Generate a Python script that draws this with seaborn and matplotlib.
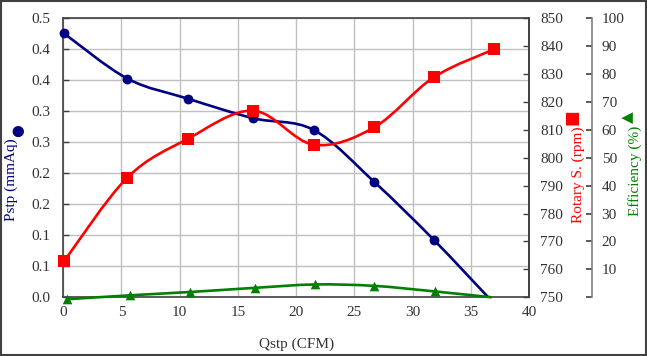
import numpy as np
import pandas as pd
import matplotlib
matplotlib.use("Agg")
import matplotlib.pyplot as plt
from matplotlib.path import Path
from matplotlib.patches import PathPatch, Rectangle
from matplotlib.ticker import FixedLocator, FixedFormatter
import seaborn as sns

# ---------------- data ----------------
q_pstp = [0.06, 5.5, 10.7, 16.3, 21.5, 26.7, 31.8, 36.5]
pstp = [0.473, 0.392, 0.356, 0.321, 0.300, 0.207, 0.1035, 0.0]

q_rpm = [0.06, 5.5, 10.7, 16.3, 21.5, 26.7, 31.8, 37.0]
rpm = [762.9, 792.9, 806.8, 816.9, 804.7, 810.9, 828.8, 838.9]

q_eff = [0.3, 5.7, 10.9, 16.5, 21.6, 26.7, 31.9, 36.8]
eff = [-0.7, 0.7, 1.9, 3.4, 4.6, 4.1, 2.1, 0.0]

n_marked = 7  # markers shown on first points only

x_ticks = [0, 5, 10, 15, 20, 25, 30, 35, 40]
left_tick_labels = ['0.0', '0.1', '0.1', '0.2', '0.2', '0.3', '0.3', '0.4', '0.4', '0.5']
rpm_ticks = [750, 760, 770, 780, 790, 800, 810, 820, 830, 840, 850]
eff_ticks = [0, 10, 20, 30, 40, 50, 60, 70, 80, 90, 100]
eff_tick_labels = ['', '10', '20', '30', '40', '50', '60', '70', '80', '90', '100']

NAVY = '#000080'
RED = '#ff0000'
GREEN = '#008000'
TXT = '#333333'

sns.set_theme(style='white')
plt.rcParams['font.family'] = ['Liberation Serif', 'DejaVu Sans']
plt.rcParams['font.size'] = 11


def smooth_path(xs, ys):
    """Excel-like smoothed curve as Bezier path through the data points."""
    P = np.column_stack([xs, ys]).astype(float)
    n = len(P)
    verts = [P[0]]
    codes = [Path.MOVETO]
    for i in range(n - 1):
        p_prev = P[i - 1] if i > 0 else P[i]
        p_next2 = P[i + 2] if i + 2 < n else P[i + 1]
        c1 = P[i] + (P[i + 1] - p_prev) / 6.0
        c2 = P[i + 1] - (p_next2 - P[i]) / 6.0
        verts += [c1, c2, P[i + 1]]
        codes += [Path.CURVE4] * 3
    return Path(verts, codes)


fig = plt.figure(figsize=(6.47, 3.56), dpi=100)
ax = fig.add_axes([0.0978, 0.1649, 0.8176 - 0.0978, 0.9486 - 0.1649])
ax2 = ax.twinx()
ax3 = ax.twinx()

# --- main axis (Pstp) ---
ax.set_xlim(0, 40)
ax.set_ylim(0, 0.5)
ax.xaxis.set_major_locator(FixedLocator(x_ticks))
yt = np.linspace(0, 0.5, len(left_tick_labels))
ax.yaxis.set_major_locator(FixedLocator(yt))
ax.yaxis.set_major_formatter(FixedFormatter(left_tick_labels))
ax.grid(True, color='#c0c0c0', lw=1.0)
ax.set_axisbelow(True)
for s in ax.spines.values():
    s.set_color('#404040')
    s.set_linewidth(1.2)
ax.tick_params(axis='y', direction='in', length=4, width=1, color='#404040',
               labelsize=11, labelcolor=TXT, pad=9)
ax.tick_params(axis='x', direction='in', length=0, labelsize=11, labelcolor=TXT, pad=6)

ax.add_patch(PathPatch(smooth_path(q_pstp, pstp), fill=False, edgecolor=NAVY,
                       lw=1.9, clip_on=False, zorder=3))
df_p = pd.DataFrame({'q': q_pstp[:n_marked], 'v': pstp[:n_marked]})
sns.scatterplot(data=df_p, x='q', y='v', ax=ax, marker='o', s=50, color=NAVY,
                edgecolor=NAVY, linewidth=0, zorder=4, clip_on=False)

ax.set_xlabel('Qstp (CFM)', fontsize=11, color=TXT)
ax.xaxis.set_label_coords(0.501, -0.145)
ax.set_ylabel('Pstp (mmAq)', fontsize=11, color=NAVY)
ax.yaxis.set_label_coords(-0.0975, 0.420)
ax.text(-0.0988, 0.596, '\u25CF', transform=ax.transAxes, rotation=90,
        ha='center', va='center', fontsize=10.5, color=NAVY,
        family='DejaVu Sans', clip_on=False)

# --- rpm axis ---
ax2.set_ylim(750, 850)
ax2.yaxis.set_major_locator(FixedLocator(rpm_ticks))
ax2.tick_params(axis='y', direction='in', length=4, width=1, color='#404040',
                labelsize=11, labelcolor=TXT, pad=8)
for s in ax2.spines.values():
    s.set_visible(False)
ax2.spines['right'].set_visible(True)
ax2.spines['right'].set_color('#404040')
ax2.spines['right'].set_linewidth(1.2)
ax2.add_patch(PathPatch(smooth_path(q_rpm, rpm), fill=False, edgecolor=RED,
                        lw=1.9, clip_on=False, zorder=3))
df_r = pd.DataFrame({'q': q_rpm, 'v': rpm})
sns.scatterplot(data=df_r, x='q', y='v', ax=ax2, marker='s', s=64, color=RED,
                edgecolor=RED, linewidth=0, zorder=4, clip_on=False)
ax2.set_xlabel('')
ax2.set_ylabel('Rotary S. (rpm)', fontsize=11, color=RED)
ax2.yaxis.set_label_coords(1.0917, 0.440)
ax2.text(1.0917, 0.646, '\u25A0', transform=ax2.transAxes, rotation=90,
         ha='center', va='center', fontsize=12, color=RED,
         family='DejaVu Sans', clip_on=False)

# --- efficiency axis ---
ax3.set_ylim(0, 100)
ax3.spines['right'].set_position(('axes', 1.135))
for s in ax3.spines.values():
    s.set_visible(False)
ax3.spines['right'].set_visible(True)
ax3.spines['right'].set_color('#808080')
ax3.spines['right'].set_linewidth(1.2)
ax3.yaxis.set_major_locator(FixedLocator(eff_ticks))
ax3.yaxis.set_major_formatter(FixedFormatter(eff_tick_labels))
ax3.tick_params(axis='y', direction='in', length=4, width=1.2, color='#404040',
                labelsize=11, labelcolor=TXT, pad=7)
ax3.add_patch(PathPatch(smooth_path(q_eff, eff), fill=False, edgecolor=GREEN,
                        lw=1.9, clip_on=False, zorder=3))
df_e = pd.DataFrame({'q': q_eff[:n_marked], 'v': eff[:n_marked]})
sns.scatterplot(data=df_e, x='q', y='v', ax=ax3, marker='^', s=48, color=GREEN,
                edgecolor=GREEN, linewidth=0, zorder=4, clip_on=False)
ax3.set_xlabel('')
ax3.set_ylabel('Efficiency (%)', fontsize=11, color=GREEN)
ax3.yaxis.set_label_coords(1.2126, 0.452)
ax3.text(1.2126, 0.646, '\u25B2', transform=ax3.transAxes, rotation=90,
         ha='center', va='center', fontsize=11, color=GREEN,
         family='DejaVu Sans', clip_on=False)

for a in (ax2, ax3):
    a.set_xlim(0, 40)

# figure border
fig.patches.append(Rectangle((0.001, 0.002), 0.997, 0.995, transform=fig.transFigure,
                             fill=False, edgecolor='#404040', lw=1.5))

fig.savefig('out.png', dpi=100)
